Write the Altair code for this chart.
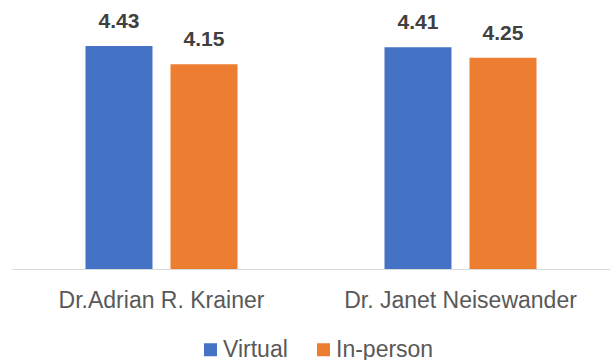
import altair as alt
import pandas as pd

# Mean ratings per speaker, by session format
speakers = ["Dr.Adrian R. Krainer", "Dr. Janet Neisewander"]
formats = ["Virtual", "In-person"]
virtual_scores = [4.43, 4.41]
in_person_scores = [4.15, 4.25]
axis_floor = 1

colors = ["#4472C4", "#ED7D31"]

rows = []
for i, sp in enumerate(speakers):
    rows.append({"speaker": sp, "format": "Virtual", "score": virtual_scores[i]})
    rows.append({"speaker": sp, "format": "In-person", "score": in_person_scores[i]})
df = pd.DataFrame(rows)
df["label"] = df["score"].map(lambda v: f"{v:.2f}")

FONT = "Liberation Sans"

x_enc = alt.X(
    "speaker:N",
    sort=speakers,
    scale=alt.Scale(paddingInner=0.4916, paddingOuter=0.2458),
    axis=alt.Axis(
        title=None,
        labelAngle=0,
        ticks=False,
        tickSize=0,
        grid=False,
        domainColor="#D9D9D9",
        domainWidth=1,
        labelFont=FONT,
        labelFontSize=23,
        labelColor="#595959",
        labelPadding=38,
        labelBaseline="alphabetic",
        labelLimit=400,
    ),
)
xoff_enc = alt.XOffset(
    "format:N",
    sort=formats,
    scale=alt.Scale(paddingInner=0.212, paddingOuter=0),
)
y_enc = alt.Y(
    "score:Q",
    scale=alt.Scale(domain=[axis_floor, 5], zero=False, nice=False),
    axis=None,
)

base = alt.Chart(df).encode(x=x_enc, xOffset=xoff_enc, y=y_enc)

bars = base.mark_bar().encode(
    y2=alt.datum(axis_floor),
    color=alt.Color(
        "format:N",
        sort=formats,
        scale=alt.Scale(domain=formats, range=colors),
        legend=alt.Legend(
            title=None,
            orient="none",
            legendX=187,
            legendY=329,
            direction="horizontal",
            symbolType="square",
            symbolSize=169,
            symbolStrokeWidth=0,
            symbolOpacity=1,
            labelFont=FONT,
            labelFontSize=23,
            labelColor="#595959",
            labelOffset=1,
            columnPadding=24,
            padding=0,
        ),
    ),
)

labels = base.mark_text(
    font=FONT,
    fontSize=21,
    fontWeight="bold",
    color="#404040",
    baseline="alphabetic",
    align="center",
    dy=-18,
).encode(text="label:N")

chart = (
    alt.layer(bars, labels)
    .properties(
        width=598,
        height=260,
        autosize=alt.AutoSizeParams(type="none"),
        padding={"left": 12, "top": 9, "right": 0, "bottom": 91},
        view=alt.ViewBackground(stroke="transparent", strokeWidth=0, strokeOpacity=0),
    )
    .configure_view(stroke="transparent", strokeWidth=0, strokeOpacity=0)
    .configure_axis(grid=False)
    .configure(background="white")
)

chart.save("out.html", embed_options={"renderer": "svg", "actions": False})
